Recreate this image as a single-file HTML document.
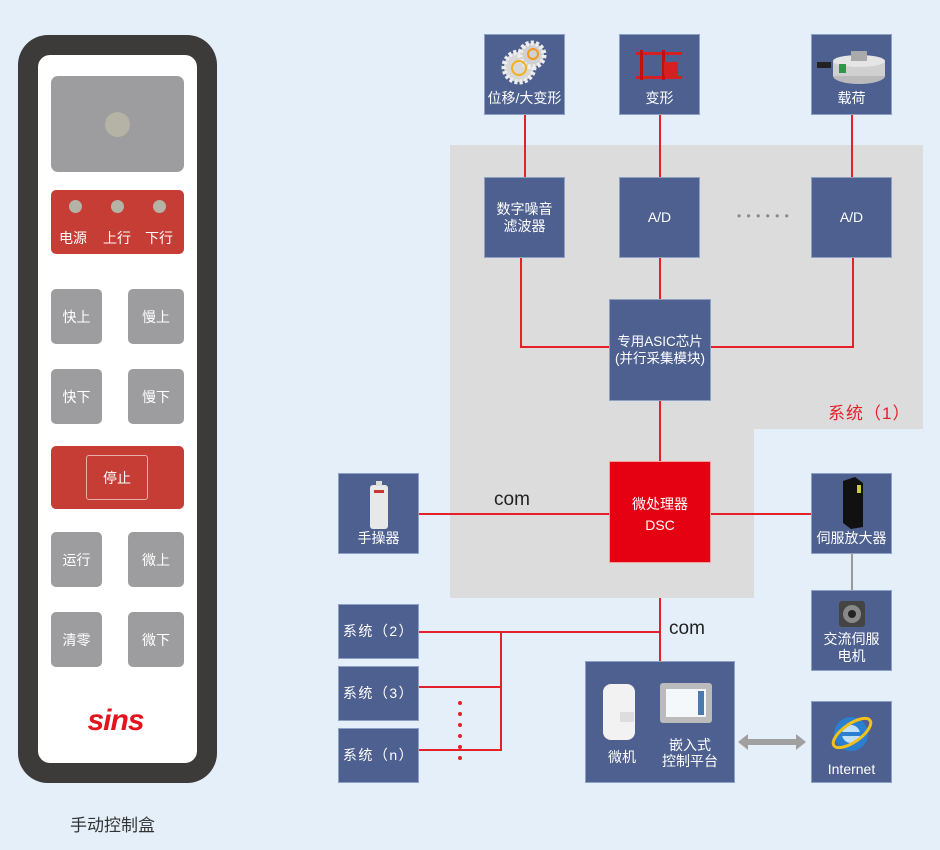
<!DOCTYPE html>
<html><head><meta charset="utf-8"><style>
*{margin:0;padding:0;box-sizing:border-box}
body{width:940px;height:850px;background:#e5eff9;position:relative;overflow:hidden;font-family:"Liberation Sans","Noto Sans CJK SC",sans-serif}
.a{position:absolute}
.bx{position:absolute;background:#4d6090;border:1px solid #8ea0c4;color:#fff;font-size:14px;text-align:center;display:flex;flex-direction:column;align-items:center;justify-content:center;line-height:17px}
.rl{position:absolute;background:#e4202a}
.btn{position:absolute;background:#9d9d9f;border-radius:5px;color:#fff;font-size:14px;display:flex;align-items:center;justify-content:center;width:51px;height:55px}
.ic{position:absolute;left:50%;transform:translateX(-50%)}
.sy{letter-spacing:1.5px}
</style></head><body>
<!-- controller -->
<div class="a" style="left:18px;top:35px;width:199px;height:748px;background:#3d3a3a;border-radius:30px"></div>
<div class="a" style="left:38px;top:55px;width:159px;height:708px;background:#fff;border-radius:12px"></div>
<div class="a" style="left:51px;top:76px;width:133px;height:96px;background:#9d9d9f;border-radius:7px"></div>
<div class="a" style="left:105px;top:112px;width:25px;height:25px;background:#b5b3a5;border-radius:50%"></div>
<div class="a" style="left:51px;top:190px;width:133px;height:64px;background:#c63d35;border-radius:5px"></div>
<div class="a" style="left:69px;top:200px;width:13px;height:13px;background:#b5b3a5;border-radius:50%"></div>
<div class="a" style="left:111px;top:200px;width:13px;height:13px;background:#b5b3a5;border-radius:50%"></div>
<div class="a" style="left:153px;top:200px;width:13px;height:13px;background:#b5b3a5;border-radius:50%"></div>
<div class="a" style="left:59px;top:228px;color:#fff;font-size:14px">电源</div>
<div class="a" style="left:103px;top:228px;color:#fff;font-size:14px">上行</div>
<div class="a" style="left:145px;top:228px;color:#fff;font-size:14px">下行</div>
<div class="btn" style="left:51px;top:289px">快上</div>
<div class="btn" style="left:128px;top:289px;width:56px">慢上</div>
<div class="btn" style="left:51px;top:369px">快下</div>
<div class="btn" style="left:128px;top:369px;width:56px">慢下</div>
<div class="a" style="left:51px;top:446px;width:133px;height:63px;background:#c63d35;border-radius:5px"></div>
<div class="a" style="left:86px;top:455px;width:62px;height:45px;border:1px solid #e8b0aa;border-radius:3px;color:#fff;font-size:14px;display:flex;align-items:center;justify-content:center">停止</div>
<div class="btn" style="left:51px;top:532px">运行</div>
<div class="btn" style="left:128px;top:532px;width:56px">微上</div>
<div class="btn" style="left:51px;top:612px">清零</div>
<div class="btn" style="left:128px;top:612px;width:56px">微下</div>
<div class="a" style="left:68px;top:704px;width:95px;text-align:center;color:#e2151f;font-size:30px;font-weight:bold;font-style:italic;letter-spacing:-1px">sins</div>
<div class="a" style="left:70px;top:811px;font-size:17px;color:#333">手动控制盒</div>

<!-- gray system area -->
<div class="a" style="left:450px;top:145px;width:473px;height:284px;background:#dcdcdc"></div>
<div class="a" style="left:450px;top:429px;width:304px;height:169px;background:#dcdcdc"></div>
<div class="a" style="left:828px;top:399px;font-size:17px;color:#e4202a;letter-spacing:1px">系统（1）</div>

<!-- lines -->
<div class="rl" style="left:524px;top:115px;width:2px;height:62px"></div>
<div class="rl" style="left:659px;top:115px;width:2px;height:62px"></div>
<div class="rl" style="left:851px;top:115px;width:2px;height:62px"></div>
<div class="rl" style="left:520px;top:257px;width:2px;height:90px"></div>
<div class="rl" style="left:520px;top:346px;width:90px;height:2px"></div>
<div class="rl" style="left:852px;top:257px;width:2px;height:90px"></div>
<div class="rl" style="left:710px;top:346px;width:144px;height:2px"></div>
<div class="rl" style="left:659px;top:257px;width:2px;height:43px"></div>
<div class="rl" style="left:659px;top:401px;width:2px;height:60px"></div>
<div class="rl" style="left:418px;top:513px;width:191px;height:2px"></div>
<div class="rl" style="left:710px;top:513px;width:101px;height:2px"></div>
<div class="a" style="left:851px;top:554px;width:2px;height:36px;background:#9a9a9a"></div>
<div class="rl" style="left:659px;top:598px;width:2px;height:63px"></div>
<div class="rl" style="left:418px;top:631px;width:242px;height:2px"></div>
<div class="rl" style="left:500px;top:631px;width:2px;height:120px"></div>
<div class="rl" style="left:418px;top:686px;width:84px;height:2px"></div>
<div class="rl" style="left:418px;top:749px;width:84px;height:2px"></div>
<svg class="a" style="left:455px;top:698px" width="10" height="66"><g fill="#e4202a"><circle cx="5" cy="5" r="2"/><circle cx="5" cy="16" r="2"/><circle cx="5" cy="27" r="2"/><circle cx="5" cy="38" r="2"/><circle cx="5" cy="49" r="2"/><circle cx="5" cy="60" r="2"/></g></svg>
<div class="a" style="left:494px;top:489px;font-size:19px;color:#222">com</div>
<div class="a" style="left:669px;top:618px;font-size:19px;color:#222">com</div>
<div class="a" style="left:737px;top:209px;color:#888;font-size:12px;letter-spacing:1px">• • • • • •</div>

<!-- boxes -->
<div class="bx" style="left:484px;top:34px;width:81px;height:81px;justify-content:flex-end;padding-bottom:7px">
<svg class="ic" style="top:4px" width="50" height="48"><circle cx="19" cy="28" r="15" fill="#d8d8d8" stroke="#eee" stroke-dasharray="3 2" stroke-width="5"/><circle cx="32" cy="16" r="12" fill="#d0d0d0" stroke="#eee" stroke-dasharray="3 2" stroke-width="5"/><circle cx="33" cy="15" r="5" fill="none" stroke="#f29a1a" stroke-width="2"/><circle cx="19" cy="29" r="7" fill="none" stroke="#f2b01a" stroke-width="2"/></svg>位移/大变形</div>
<div class="bx" style="left:619px;top:34px;width:81px;height:81px;justify-content:flex-end;padding-bottom:7px">
<svg class="ic" style="top:10px" width="56" height="40"><rect x="4" y="7" width="46" height="3" fill="#d42020"/><rect x="4" y="31" width="46" height="3" fill="#d42020"/><rect x="8" y="5" width="3" height="30" fill="#c01010"/><rect x="30" y="5" width="3" height="30" fill="#c01010"/><rect x="32" y="17" width="14" height="14" fill="#d42020"/></svg>变形</div>
<div class="bx" style="left:811px;top:34px;width:81px;height:81px;justify-content:flex-end;padding-bottom:7px">
<svg class="ic" style="top:16px" width="74" height="36"><rect x="2" y="11" width="14" height="6" fill="#222"/><ellipse cx="44" cy="25" rx="26" ry="8" fill="#bbb"/><rect x="18" y="10" width="52" height="15" fill="#d0d0d0"/><ellipse cx="44" cy="10" rx="26" ry="6" fill="#e5e5e5"/><rect x="36" y="0" width="16" height="10" fill="#aaa"/><rect x="24" y="13" width="7" height="9" fill="#2a9a4a"/></svg>载荷</div>
<div class="bx" style="left:484px;top:177px;width:81px;height:81px">数字噪音<br>滤波器</div>
<div class="bx" style="left:619px;top:177px;width:81px;height:81px">A/D</div>
<div class="bx" style="left:811px;top:177px;width:81px;height:81px">A/D</div>
<div class="bx" style="left:609px;top:299px;width:102px;height:102px;font-size:13.5px">专用ASIC芯片<br>(并行采集模块)</div>
<div class="a" style="left:609px;top:461px;width:102px;height:102px;background:#e50012;border:1px solid #f5a0a0;color:#fff;font-size:14px;text-align:center;padding-top:32px;line-height:21px">微处理器<br>DSC</div>
<div class="bx" style="left:338px;top:473px;width:81px;height:81px;justify-content:flex-end;padding-bottom:6px">
<svg class="ic" style="top:7px" width="22" height="48"><rect x="2" y="4" width="18" height="44" rx="3" fill="#e8e8e8"/><rect x="8" y="0" width="6" height="5" fill="#ddd"/><rect x="6" y="9" width="10" height="3" fill="#c33"/></svg>手操器</div>
<div class="bx" style="left:811px;top:473px;width:81px;height:81px;justify-content:flex-end;padding-bottom:6px">
<svg class="ic" style="top:3px" width="30" height="52"><polygon points="6,4 18,0 26,6 26,50 14,52 6,46" fill="#111"/><rect x="20" y="8" width="4" height="8" fill="#cc3"/></svg>伺服放大器</div>
<div class="bx" style="left:811px;top:590px;width:81px;height:81px;justify-content:flex-end;padding-bottom:5px">
<svg class="ic" style="top:4px" width="32" height="34"><rect x="3" y="6" width="26" height="26" rx="3" fill="#444"/><circle cx="16" cy="19" r="9" fill="#888"/><circle cx="16" cy="19" r="4" fill="#222"/></svg>交流伺服<br>电机</div>
<div class="bx sy" style="left:338px;top:604px;width:81px;height:55px">系统（2）</div>
<div class="bx sy" style="left:338px;top:666px;width:81px;height:55px">系统（3）</div>
<div class="bx sy" style="left:338px;top:728px;width:81px;height:55px">系统（n）</div>
<div class="a" style="left:585px;top:661px;width:150px;height:122px;background:#4d6090;border:1px solid #8ea0c4;color:#fff;font-size:14px">
<svg class="a" style="left:14px;top:20px" width="40" height="60"><rect x="3" y="2" width="32" height="56" rx="8" fill="#f2f2f2"/><rect x="20" y="30" width="14" height="10" fill="#ddd"/></svg>
<svg class="a" style="left:72px;top:19px" width="56" height="44"><rect x="2" y="2" width="52" height="40" rx="3" fill="#bbb"/><rect x="8" y="8" width="40" height="28" fill="#f4f8fb"/><rect x="40" y="10" width="6" height="24" fill="#4a7ab0"/></svg>
<div class="a" style="left:22px;top:85px">微机</div>
<div class="a" style="left:76px;top:75px;line-height:16px;text-align:center">嵌入式<br>控制平台</div>
</div>
<svg class="a" style="left:738px;top:732px" width="68" height="20"><polygon points="0,10 10,2 10,7 58,7 58,2 68,10 58,18 58,13 10,13 10,18" fill="#a0a0a0"/></svg>
<div class="bx" style="left:811px;top:701px;width:81px;height:82px;justify-content:flex-end;padding-bottom:4px">
<svg class="ic" style="top:8px" width="46" height="46"><circle cx="22" cy="24" r="17" fill="#2a7fd0"/><circle cx="22" cy="24" r="9" fill="#bfe0ff"/><rect x="12" y="22" width="22" height="4" fill="#2a7fd0"/><ellipse cx="23" cy="23" rx="22" ry="9" fill="none" stroke="#f2c01a" stroke-width="3" transform="rotate(-35 23 23)"/></svg>Internet</div>
</body></html>
